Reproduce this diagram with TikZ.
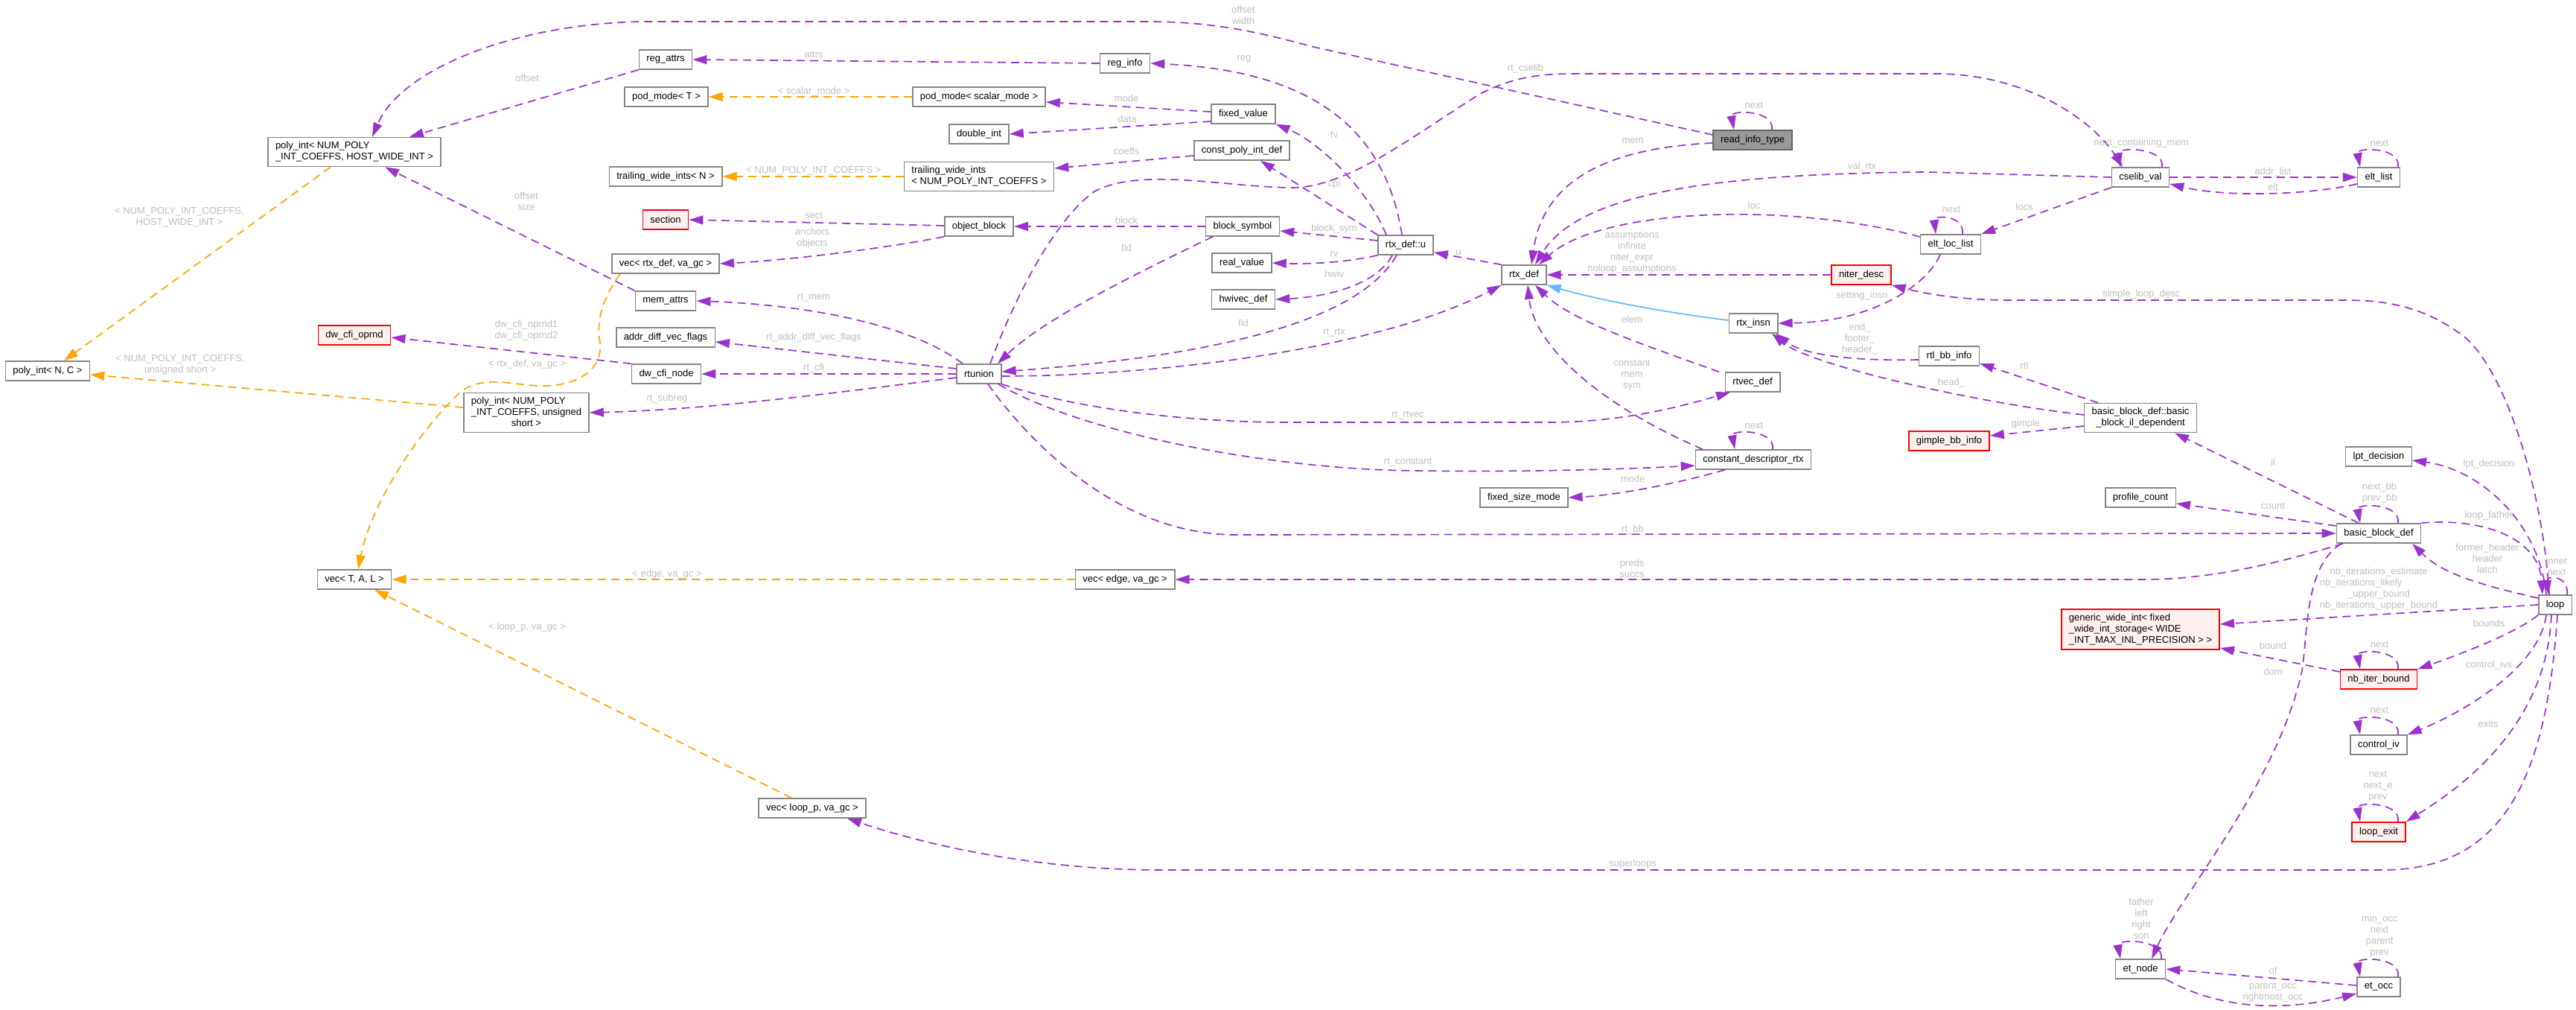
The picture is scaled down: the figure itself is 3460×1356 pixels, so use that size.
\documentclass[tikz,border=0pt]{standalone}
\usepackage{fontspec}
\setmainfont{Liberation Sans}
\usetikzlibrary{arrows.meta,calc}
\definecolor{edgec}{HTML}{9A32CD}
\definecolor{tmplc}{HTML}{FFA500}
\definecolor{inhc}{HTML}{63B8FF}
\definecolor{lblc}{HTML}{BEBEBE}
\definecolor{boxc}{HTML}{858585}
\definecolor{redb}{HTML}{FF0000}
\definecolor{redf}{HTML}{FFF0F0}
\definecolor{mainf}{HTML}{999999}
\begin{document}
\begin{tikzpicture}[x=1pt,y=-1pt,
  font=\fontsize{13}{15}\selectfont,
  box/.style={draw=boxc, line width=1.5pt, fill=white, inner xsep=10pt, inner ysep=6pt, minimum height=26pt},
  redbox/.style={box, draw=redb, fill=redf},
  mainbox/.style={box, fill=mainf, draw=black!60},
  edge/.style={draw=edgec, line width=1.7pt, dash pattern=on 11pt off 7pt, -{Triangle[length=19pt,width=12pt]}},
  tmpl/.style={edge, draw=tmplc},
  inh/.style={draw=inhc, line width=1.7pt, -{Triangle[length=19pt,width=12pt]}},
  lbl/.style={text=lblc, inner sep=0pt, align=center},
]
\fill[white] (0,0) rectangle (3460,1356);
\useasboundingbox (0,0) rectangle (3460,1356);

% ---------------- nodes ----------------
\node[box, align=left] (pint_hwi) at (476,204) {poly\_int< NUM\_POLY\\\_INT\_COEFFS, HOST\_WIDE\_INT >};
\node[box] (pint_nc) at (64,498) {poly\_int< N, C >};
\node[box, inner ysep=4pt] (pint_us) at (707,554) {\begin{tabular}{@{}l@{}}poly\_int< NUM\_POLY\\\_INT\_COEFFS, unsigned\\\multicolumn{1}{@{}c@{}}{short >}\end{tabular}};
\node[box] (vec_tal) at (476,778) {vec< T, A, L >};
\node[redbox] (dw_opnd) at (476,450) {dw\_cfi\_oprnd};
\node[box] (reg_attrs) at (894,80) {reg\_attrs};
\node[box] (pod_T) at (895,130) {pod\_mode< T >};
\node[box] (twi_N) at (894,237) {trailing\_wide\_ints< N >};
\node[redbox] (section) at (894,295) {section};
\node[box] (vec_rtx) at (894,354) {vec< rtx\_def, va\_gc >};
\node[box] (mem_attrs) at (894,404) {mem\_attrs};
\node[box] (adv_flags) at (894,453) {addr\_diff\_vec\_flags};
\node[box] (dw_node) at (895,502) {dw\_cfi\_node};
\node[box] (reg_info) at (1511,85) {reg\_info};
\node[box] (pod_sm) at (1315,130) {pod\_mode< scalar\_mode >};
\node[box] (double_int) at (1315,180) {double\_int};
\node[box, align=left] (twi_num) at (1315,237) {trailing\_wide\_ints\\< NUM\_POLY\_INT\_COEFFS >};
\node[box] (obj_block) at (1315,304) {object\_block};
\node[box] (rtunion) at (1315,502) {rtunion};
\node[box] (vec_edge) at (1511,778) {vec< edge, va\_gc >};
\node[box] (vec_loop) at (1091,1085) {vec< loop\_p, va\_gc >};
\node[box] (fixed_value) at (1670,153) {fixed\_value};
\node[box] (cpid) at (1668,202) {const\_poly\_int\_def};
\node[box] (block_symbol) at (1669,304) {block\_symbol};
\node[box] (real_value) at (1668,353) {real\_value};
\node[box] (hwivec) at (1670,402) {hwivec\_def};
\node[box] (rtxu) at (1888,329) {rtx\_def::u};
\node[box] (rtx_def) at (2047,369) {rtx\_def};
\node[box] (fsm) at (2047,668) {fixed\_size\_mode};
\node[mainbox] (rit) at (2354,188) {read\_info\_type};
\node[box] (rtx_insn) at (2355,434) {rtx\_insn};
\node[box] (rtvec) at (2354,513) {rtvec\_def};
\node[box] (cdr) at (2355,617) {constant\_descriptor\_rtx};
\node[redbox] (niter) at (2500,369) {niter\_desc};
\node[box] (ell) at (2620,328) {elt\_loc\_list};
\node[box] (rtlbb) at (2618,478) {rtl\_bb\_info};
\node[redbox] (gimplebb) at (2618,592) {gimple\_bb\_info};
\node[box] (cselib) at (2875,238) {cselib\_val};
\node[box, align=center] (bbil) at (2875,561) {basic\_block\_def::basic\\\_block\_il\_dependent};
\node[box] (profile) at (2875,668) {profile\_count};
\node[redbox, align=left] (gwi) at (2875,845) {generic\_wide\_int< fixed\\\_wide\_int\_storage< WIDE\\\_INT\_MAX\_INL\_PRECISION > >};
\node[box] (etnode) at (2875,1301) {et\_node};
\node[box] (eltlist) at (3195,238) {elt\_list};
\node[box] (lpt) at (3195,613) {lpt\_decision};
\node[box] (bbdef) at (3195,716) {basic\_block\_def};
\node[redbox] (nbib) at (3195,912) {nb\_iter\_bound};
\node[box] (civ) at (3195,1000) {control\_iv};
\node[redbox] (lexit) at (3195,1117) {loop\_exit};
\node[box] (etocc) at (3195,1325) {et\_occ};
\node[box] (loop) at (3432,812) {loop};

% ---------------- edges ----------------
\draw[edge] ([yshift=7pt]rit.west) -- (1760,62) .. controls (1680,40) and (1620,29) .. (1540,29) -- (870,29) .. controls (700,30) and (540,90) .. ([xshift=24pt]pint_hwi.north);
\draw[edge] (reg_attrs.south west) -- ([xshift=74pt]pint_hwi.north);
\draw[edge] (reg_info.west) -- (reg_attrs.east);
\draw[edge] ([xshift=-5pt]rtxu.north) .. controls (1860,170) and (1760,95) .. (reg_info.east);
\draw[tmpl] (pod_sm.west) -- (pod_T.east);
\draw[edge] ([yshift=3pt]fixed_value.west) -- ([yshift=-7pt]pod_sm.east);
\draw[edge] ([yshift=-10pt]fixed_value.west) -- (double_int.east);
\draw[edge] ([xshift=-26pt]rtxu.north) .. controls (1835,250) and (1770,190) .. (fixed_value.south east);
\draw[edge] ([yshift=-7pt]cpid.west) -- ([yshift=11pt]twi_num.east);
\draw[tmpl] (twi_num.west) -- (twi_N.east);
\draw[edge] (rtxu.north west) -- ([xshift=25pt]cpid.south);
\draw[edge] (block_symbol.west) -- (obj_block.east);
\draw[edge] ([yshift=1pt]obj_block.west) -- (section.east);
\draw[edge] (obj_block.south west) .. controls (1180,335) and (1050,350) .. (vec_rtx.east);
\draw[edge] ([yshift=6pt]rtxu.west) -- ([yshift=-6pt]block_symbol.east);
\draw[edge] (rtxu.south west) .. controls (1810,352) and (1760,355) .. (real_value.east);
\draw[edge] ([xshift=-18pt]rtxu.south) .. controls (1850,380) and (1790,398) .. (hwivec.east);
\draw[edge] (rtx_def.north west) -- ([yshift=-10pt]rtxu.east);
\draw[edge] ([yshift=-3pt]rtunion.east) .. controls (1550,505) and (1850,470) .. (rtx_def.south west);
\draw[edge] ([xshift=-12pt]rtxu.south) .. controls (1820,440) and (1600,480) .. ([yshift=3pt]rtunion.east);
\draw[edge] ([xshift=-40pt]block_symbol.south) .. controls (1520,370) and (1400,430) .. ([xshift=25pt]rtunion.north);
\draw[edge] ([xshift=15pt]rtunion.north) .. controls (1355,420) and (1410,300) .. (1470,257) .. controls (1530,225) and (1640,250) .. (1731,252) .. controls (1810,254) and (1900,180) .. (1990,125) .. controls (2040,100) and (2080,99) .. (2120,99) -- (2600,99) .. controls (2720,99) and (2810,160) .. ([xshift=-24pt]cselib.north);
\draw[edge] ([xshift=-22pt]rtunion.north) .. controls (1230,440) and (1100,410) .. (mem_attrs.east);
\draw[edge] ([yshift=7pt]rtunion.west) -- ([yshift=-6pt]adv_flags.east);
\draw[edge] (rtunion.west) -- (dw_node.east);
\draw[edge] ([yshift=-5pt]rtunion.west) .. controls (1100,530) and (950,550) .. (pint_us.east);
\draw[edge] (mem_attrs.north west) -- ([xshift=41pt]pint_hwi.south);
\draw[edge] (dw_node.north west) -- ([yshift=-3pt]dw_opnd.east);
\draw[tmpl] ([xshift=-32pt]pint_hwi.south) -- ([xshift=22pt]pint_nc.north);
\draw[tmpl] ([yshift=7pt]pint_us.west) -- ([yshift=-5pt]pint_nc.east);
\draw[tmpl] ([xshift=-61pt]vec_rtx.south) .. controls (810,400) and (800,430) .. (806,460) .. controls (810,500) and (770,520) .. (722,518) .. controls (680,515) and (650,505) .. (620,525) .. controls (570,570) and (500,670) .. ([xshift=5pt]vec_tal.north);
\draw[tmpl] (vec_edge.west) -- (vec_tal.east);
\draw[tmpl] ([xshift=-28pt]vec_loop.north) -- ([xshift=27pt]vec_tal.south);
\draw[edge] ([xshift=-48pt]bbdef.south) .. controls (3080,750) and (2980,778) .. (2880,778) -- (vec_edge.east);
\draw[edge] ([xshift=12pt]rtunion.south) .. controls (1380,590) and (1500,718) .. (1660,718) -- (bbdef.west);
\draw[edge] (rtunion.south east) .. controls (1450,550) and (1600,567) .. (1730,567) -- (2080,567) .. controls (2180,567) and (2260,545) .. ([xshift=-30pt]rtvec.south);
\draw[edge] ([xshift=26pt]rtunion.south) .. controls (1450,580) and (1700,630) .. (1900,632) .. controls (2050,634) and (2180,630) .. ([yshift=-8pt]cdr.west);
\draw[edge] ([yshift=-4pt]rit.west) .. controls (2130,200) and (2070,260) .. ([xshift=10pt]rtx_def.north);
\draw[edge] (cselib.west) -- (2590,231) .. controls (2300,233) and (2120,260) .. ([xshift=15pt]rtx_def.north);
\draw[edge] ([yshift=10pt]ell.west) .. controls (2400,270) and (2150,280) .. ([xshift=20pt]rtx_def.north);
\draw[edge] (niter.west) -- (rtx_def.east);
\draw[inh] ([yshift=4pt]rtx_insn.west) .. controls (2200,415) and (2120,395) .. (rtx_def.south east);
\draw[edge] ([xshift=-45pt]rtvec.north) .. controls (2200,460) and (2110,430) .. ([xshift=15pt]rtx_def.south);
\draw[edge] ([xshift=-68pt]cdr.north) .. controls (2140,540) and (2060,460) .. ([xshift=5pt]rtx_def.south);
\draw[edge] ([xshift=-38pt]cdr.south) .. controls (2250,650) and (2170,665) .. (fsm.east);
\draw[edge] (cselib.south west) -- (ell.north east);
\draw[edge] (cselib.east) -- (eltlist.west);
\draw[edge] ([yshift=-9pt]eltlist.west) .. controls (3100,262) and (2990,265) .. ([yshift=-9pt]cselib.east);
\draw[edge] ([xshift=-14pt]ell.south) .. controls (2590,380) and (2520,432) .. (rtx_insn.east);
\draw[edge] ([xshift=-8pt]loop.north) .. controls (3415,650) and (3360,480) .. (3300,445) .. controls (3250,410) and (3200,403) .. (3150,403) -- (2700,403) .. controls (2630,403) and (2580,393) .. (niter.south east);
\draw[edge] ([yshift=-5pt]rtlbb.west) .. controls (2480,485) and (2420,475) .. ([xshift=30pt]rtx_insn.south);
\draw[edge] ([yshift=4pt]bbil.west) .. controls (2650,540) and (2430,490) .. ([xshift=25pt]rtx_insn.south);
\draw[edge] ([xshift=-57pt]bbil.north) -- ([yshift=-10pt]rtlbb.east);
\draw[edge] ([yshift=-11pt]bbil.west) -- ([yshift=7pt]gimplebb.east);
\draw[edge] ([xshift=-27pt]bbdef.north) -- ([xshift=46pt]bbil.south);
\draw[edge] ([yshift=10pt]bbdef.west) -- ([yshift=-8pt]profile.east);
\draw[edge] (bbdef.north east) .. controls (3330,695) and (3410,720) .. ([xshift=-17pt]loop.north);
\draw[edge] ([yshift=9pt]loop.west) .. controls (3330,785) and (3280,770) .. ([xshift=45pt]bbdef.south);
\draw[edge] ([xshift=-12pt]loop.north) .. controls (3410,700) and (3330,630) .. ([yshift=-5pt]lpt.east);
\draw[edge] (loop.west) -- ([yshift=7pt]gwi.east);
\draw[edge] (loop.south west) .. controls (3380,850) and (3300,880) .. (nbib.north east);
\draw[edge] ([yshift=10pt]nbib.west) -- ([yshift=-25pt]gwi.east);
\draw[edge] ([xshift=-12pt]loop.south) .. controls (3410,900) and (3300,960) .. (civ.north east);
\draw[edge] ([xshift=-5pt]loop.south) .. controls (3420,980) and (3300,1060) .. (lexit.north east);
\draw[edge] ([xshift=3pt]loop.south) .. controls (3420,1050) and (3360,1168) .. (3200,1168) -- (1560,1168) .. controls (1380,1168) and (1230,1130) .. ([xshift=47pt]vec_loop.south);
\draw[edge] ([xshift=-50pt]bbdef.south) .. controls (3095,760) and (3100,850) .. (3092,900) .. controls (3060,1050) and (2930,1200) .. ([xshift=15pt]etnode.north);
\draw[edge] ([yshift=2pt]etocc.west) -- (etnode.east);
\draw[edge] (etnode.south east) .. controls (2990,1360) and (3080,1355) .. ([yshift=-9pt]etocc.west);

% self loops
\foreach \n in {rit,cdr,eltlist,bbdef,nbib,civ,lexit,etocc}{
  \draw[edge] ([xshift=26pt]\n.north) .. controls +(4,-27) and +(-5,-27) .. ([xshift=-25pt]\n.north);
}
\draw[edge] ([xshift=29pt]cselib.north) .. controls +(4,-27) and +(-5,-27) .. ([xshift=-27pt]cselib.north);
\draw[edge] ([xshift=28pt]etnode.north) .. controls +(4,-27) and +(-5,-27) .. ([xshift=-27pt]etnode.north);
\draw[edge] ([xshift=16pt]ell.north) .. controls +(3,-26) and +(-3,-26) .. ([xshift=-20pt]ell.north);
\draw[edge] ([xshift=16pt]loop.north) .. controls +(3,-26) and +(-3,-26) .. ([xshift=-9pt]loop.north);

% ---------------- labels ----------------
\node[lbl] (l1) at (1670,20) {offset\\width};
\node[lbl] (l2) at (708,105) {offset};
\node[lbl] (l3) at (1093,73) {attrs};
\node[lbl] (l4) at (1671,79) {reg};
\node[lbl] (l5) at (1093,123) {< scalar\_mode >};
\node[lbl] (l6) at (1513,132) {mode};
\node[lbl] (l7) at (1514,160) {data};
\node[lbl] (l8) at (1792,181) {fv};
\node[lbl] (l9) at (1513,203) {coeffs};
\node[lbl] (l10) at (1093,229) {< NUM\_POLY\_INT\_COEFFS >};
\node[lbl] (l11) at (1792,247) {cpi};
\node[lbl] (l12) at (2049,92) {rt\_cselib};
\node[lbl] (l13) at (1093,289) {sect};
\node[lbl] (l14) at (1513,296) {block};
\node[lbl] (l15) at (1792,307) {block\_sym};
\node[lbl] (l16) at (1091,320) {anchors\\objects};
\node[lbl] (l17) at (1513,333) {fld};
\node[lbl] (l18) at (1792,341) {rv};
\node[lbl] (l19) at (1959,339) {u};
\node[lbl] (l20) at (1792,368) {hwiv};
\node[lbl] (l21) at (1093,400) {rt\_mem};
\node[lbl] (l22) at (1670,434) {fld};
\node[lbl] (l23) at (1792,447) {rt\_rtx};
\node[lbl] (l24) at (1093,453) {rt\_addr\_diff\_vec\_flags};
\node[lbl] (l25) at (1093,494) {rt\_cfi};
\node[lbl] (l26) at (896,535) {rt\_subreg};
\node[lbl] (l27) at (241,292) {< NUM\_POLY\_INT\_COEFFS,\\HOST\_WIDE\_INT >};
\node[lbl] (l28) at (707,270) {offset\\size};
\node[lbl] (l29) at (707,444) {dw\_cfi\_oprnd1\\dw\_cfi\_oprnd2};
\node[lbl] (l30) at (242,490) {< NUM\_POLY\_INT\_COEFFS,\\unsigned short >};
\node[lbl] (l31) at (708,489) {< rtx\_def, va\_gc >};
\node[lbl] (l32) at (896,771) {< edge, va\_gc >};
\node[lbl] (l33) at (708,842) {< loop\_p, va\_gc >};
\node[lbl] (l34) at (2193,189) {mem};
\node[lbl] (l35) at (2356,141) {next};
\node[lbl] (l36) at (2501,224) {val\_rtx};
\node[lbl] (l37) at (2356,276) {loc};
\node[lbl] (l38) at (2192,339) {assumptions\\infinite\\niter\_expr\\noloop\_assumptions};
\node[lbl] (l39) at (2501,397) {setting\_insn};
\node[lbl] (l40) at (2192,429) {elem};
\node[lbl] (l41) at (2498,455) {end\_\\footer\_\\header\_};
\node[lbl] (l42) at (2192,504) {constant\\mem\\sym};
\node[lbl] (l43) at (1891,558) {rt\_rtvec};
\node[lbl] (l44) at (2356,571) {next};
\node[lbl] (l45) at (1891,621) {rt\_constant};
\node[lbl] (l46) at (2193,643) {mode};
\node[lbl] (l47) at (2193,711) {rt\_bb};
\node[lbl] (l48) at (2192,763) {preds\\succs};
\node[lbl] (l49) at (2193,1160) {superloops};
\node[lbl] (l50) at (2876,192) {next\_containing\_mem};
\node[lbl] (l51) at (3196,192) {next};
\node[lbl] (l52) at (3053,231) {addr\_list};
\node[lbl] (l53) at (3053,251) {elt};
\node[lbl] (l54) at (2621,281) {next};
\node[lbl] (l55) at (2719,278) {locs};
\node[lbl] (l56) at (2876,395) {simple\_loop\_desc};
\node[lbl] (l57) at (2719,491) {rtl};
\node[lbl] (l58) at (2621,514) {head\_};
\node[lbl] (l59) at (2721,569) {gimple};
\node[lbl] (l60) at (3343,623) {lpt\_decision};
\node[lbl] (l61) at (3053,621) {il};
\node[lbl] (l62) at (3053,679) {count};
\node[lbl] (l63) at (3196,662) {next\_bb\\prev\_bb};
\node[lbl] (l64) at (3343,692) {loop\_father};
\node[lbl] (l65) at (3341,750) {former\_header\\header\\latch};
\node[lbl] (l66) at (3434,760) {inner\\next};
\node[lbl] (l67) at (3195,791) {\begin{tabular}{@{}c@{}}nb\_iterations\_estimate\\\multicolumn{1}{@{}l@{}}{nb\_iterations\_likely}\\\_upper\_bound\\nb\_iterations\_upper\_bound\end{tabular}};
\node[lbl] (l68) at (3343,837) {bounds};
\node[lbl] (l69) at (3053,867) {bound};
\node[lbl] (l70) at (3196,865) {next};
\node[lbl] (l71) at (3053,902) {dom};
\node[lbl] (l72) at (3343,893) {control\_ivs};
\node[lbl] (l73) at (3196,953) {next};
\node[lbl] (l74) at (3342,972) {exits};
\node[lbl] (l75) at (3194,1056) {next\\next\_e\\prev};
\node[lbl] (l76) at (2876,1233) {father\\left\\right\\son};
\node[lbl] (l77) at (3196,1257) {min\_occ\\next\\parent\\prev};
\node[lbl] (l78) at (3053,1303) {of};
\node[lbl] (l79) at (3053,1332) {parent\_occ\\rightmost\_occ};
\end{tikzpicture}
\end{document}
